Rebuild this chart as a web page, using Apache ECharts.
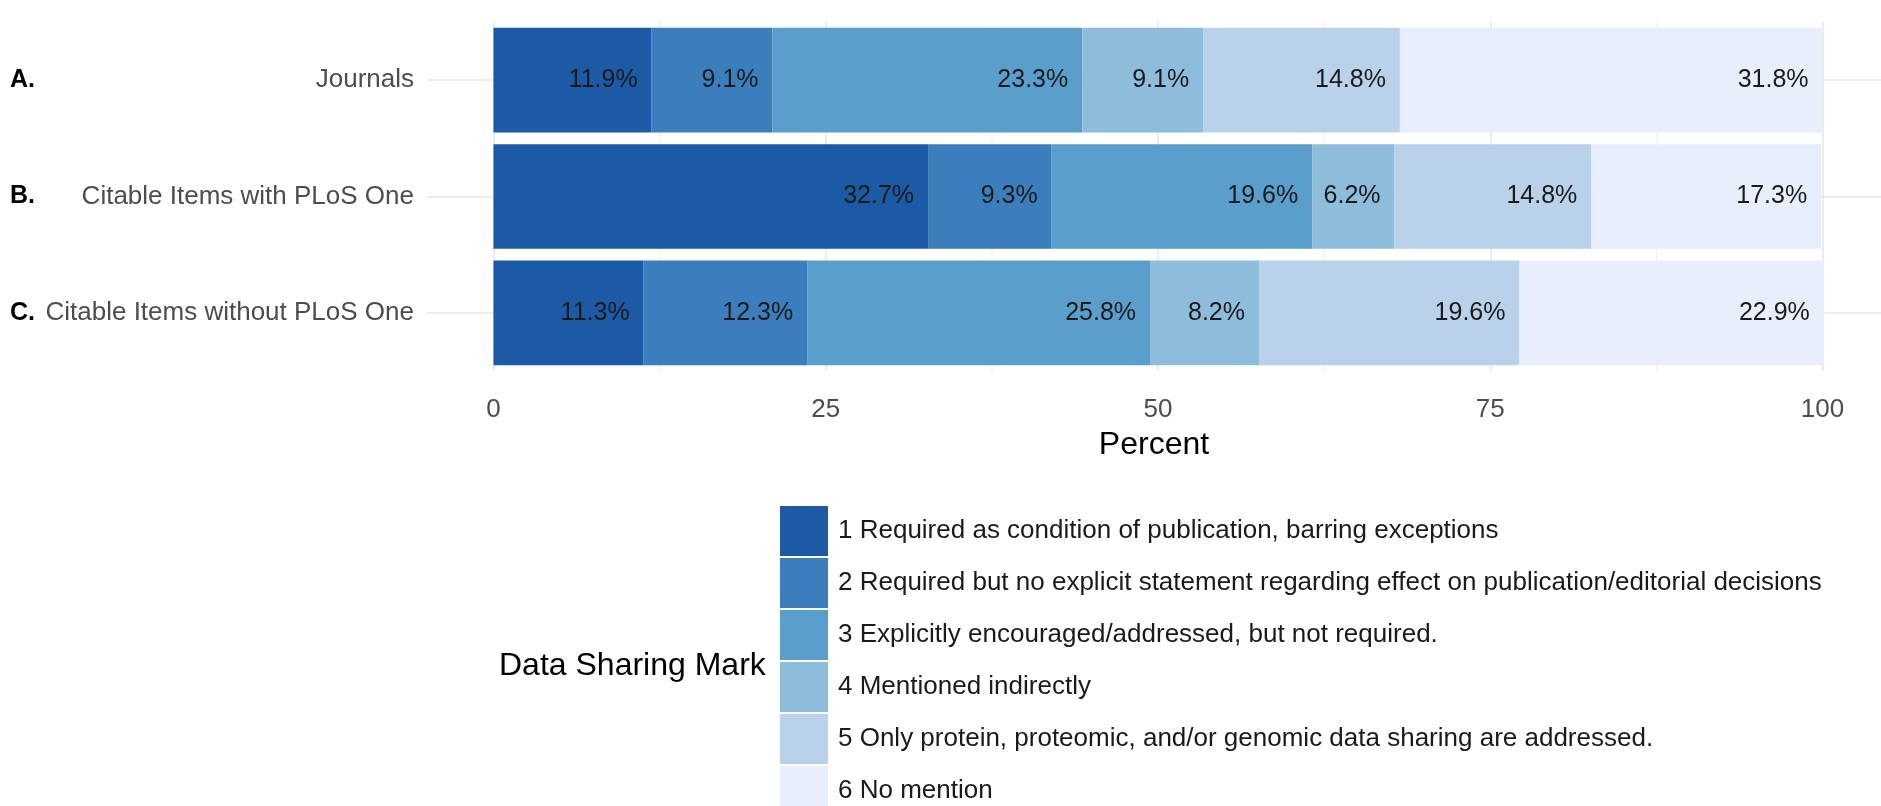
<!DOCTYPE html>
<html>
<head>
<meta charset="utf-8">
<script src="https://cdn.jsdelivr.net/npm/echarts@6/dist/echarts.min.js"></script>
<style>
  html, body { margin: 0; padding: 0; background: #fff; }
  #chart { width: 1881px; height: 806px; }
</style>
</head>
<body>
<div id="chart"></div>
<script>
// categories, top to bottom
const groups = ['Journals', 'Citable Items with PLoS One', 'Citable Items without PLoS One'];
const panelTags = ['A.', 'B.', 'C.'];

const marks = [
  '1 Required as condition of publication, barring exceptions',
  '2 Required but no explicit statement regarding effect on publication/editorial decisions',
  '3 Explicitly encouraged/addressed, but not required.',
  '4 Mentioned indirectly',
  '5 Only protein, proteomic, and/or genomic data sharing are addressed.',
  '6 No mention'
];

// percent per mark, one value per group (Journals, with PLoS One, without PLoS One)
const mark1 = [11.9, 32.7, 11.3];
const mark2 = [9.1, 9.3, 12.3];
const mark3 = [23.3, 19.6, 25.8];
const mark4 = [9.1, 6.2, 8.2];
const mark5 = [14.8, 14.8, 19.6];
const mark6 = [31.8, 17.3, 22.9];

const xTicks = [0, 25, 50, 75, 100];
const xGrid = [0, 12.5, 25, 37.5, 50, 62.5, 75, 87.5, 100];

const palette = ['#1c5aa6', '#3a7fbc', '#5a9fcc', '#8dbddb', '#bad1ea', '#e8eefb'];
const font = 'Liberation Sans, Arial, Helvetica, sans-serif';

const chart = echarts.init(document.getElementById('chart'));

const seriesData = [mark1, mark2, mark3, mark4, mark5, mark6];
const series = marks.map((name, i) => ({
  name: name,
  type: 'bar',
  stack: 'total',
  barWidth: '90%',
  yAxisIndex: 0,
  data: seriesData[i],
  itemStyle: { color: palette[i] },
  label: {
    show: true,
    position: 'insideRight',
    distance: 14,
    fontFamily: font,
    fontSize: 25,
    color: '#1a1a1a',
    formatter: p => p.value.toFixed(1) + '%'
  }
}));

const option = {
  animation: false,
  backgroundColor: '#fff',
  textStyle: { fontFamily: font },
  title: {
    text: 'Data Sharing Mark',
    left: 494,
    top: 645,
    textStyle: { fontFamily: font, fontSize: 32, fontWeight: 'normal', color: '#000' }
  },
  legend: {
    orient: 'vertical',
    left: 780,
    top: 506,
    height: 360,
    padding: 0,
    itemWidth: 48,
    itemHeight: 50,
    itemGap: 2,
    icon: 'rect',
    selectedMode: false,
    textStyle: { fontFamily: font, fontSize: 26, color: '#1a1a1a', padding: [0, 0, 0, 5] },
    data: marks
  },
  grid: {
    left: 427,
    right: 0,
    top: 22,
    height: 349
  },
  xAxis: {
    type: 'value',
    min: -5,
    max: 104.4,
    name: 'Percent',
    nameLocation: 'middle',
    nameGap: 58,
    nameTextStyle: { fontFamily: font, fontSize: 32, color: '#000' },
    axisLine: { show: false },
    axisTick: { show: false, customValues: xGrid },
    axisLabel: {
      customValues: xTicks,
      margin: 26,
      fontFamily: font,
      fontSize: 26,
      color: '#4d4d4d'
    },
    splitLine: {
      show: true,
      lineStyle: { color: ['#e6e6e6', '#f2f2f2'], width: 1.5 }
    }
  },
  yAxis: [
    {
      type: 'category',
      inverse: true,
      data: groups,
      axisLine: { show: false },
      axisTick: { show: false, alignWithLabel: true },
      axisLabel: {
        margin: 13,
        fontFamily: font,
        fontSize: 26,
        color: '#4d4d4d'
      },
      splitLine: {
        show: true,
        alignWithLabel: true,
        lineStyle: { color: '#e6e6e6', width: 1.5 }
      }
    },
    {
      type: 'category',
      inverse: true,
      position: 'left',
      data: panelTags,
      axisLine: { show: false },
      axisTick: { show: false },
      splitLine: { show: false },
      axisLabel: {
        align: 'left',
        margin: 417,
        padding: [0, 0, 8, 0],
        fontFamily: font,
        fontSize: 25,
        fontWeight: 'bold',
        color: '#000'
      }
    }
  ],
  series: series
};

chart.setOption(option);
</script>
</body>
</html>
